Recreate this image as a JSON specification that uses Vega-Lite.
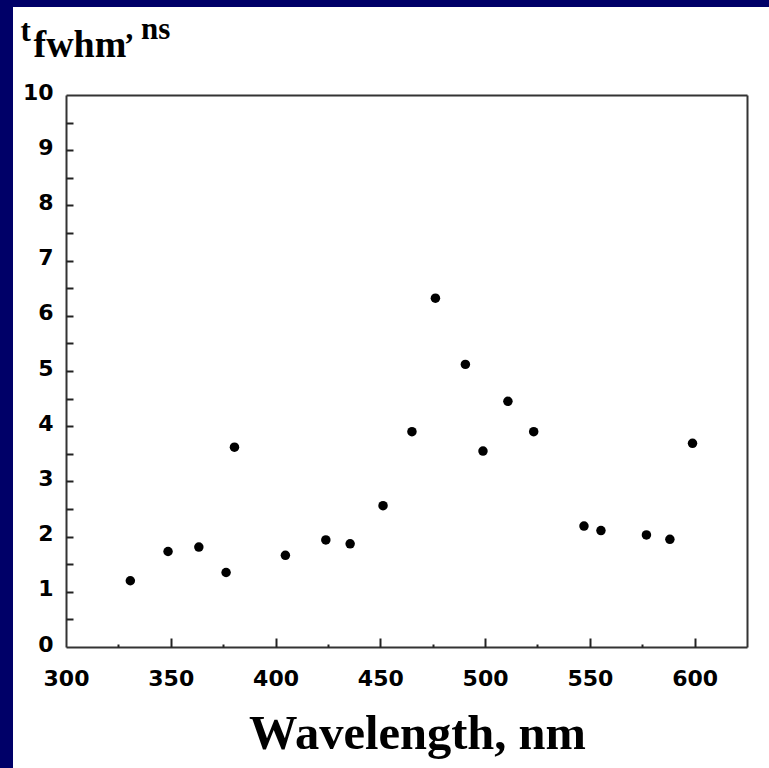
{
  "$schema": "https://vega.github.io/schema/vega-lite/v6.json",
  "width": 770,
  "height": 775,
  "autosize": "none",
  "padding": {"left": 13, "top": 7, "right": 0, "bottom": 0},
  "background": "#000068",
  "config": {
    "view": {"fill": "white", "stroke": null},
    "axis": {"grid": false, "labelFont": "DejaVu Sans", "labelFontWeight": "bold", "labelFontSize": 22, "labelColor": "black", "titleColor": "black", "titleFont": "Liberation Serif", "titleFontWeight": "bold", "domainColor": "#333333", "domainWidth": 2, "tickColor": "#222222", "tickWidth": 2, "labelFlush": false, "labelOverlap": false}
  },
  "data": {"values": [
    {"wavelength": 330.7, "t": 1.20},
    {"wavelength": 348.7, "t": 1.73},
    {"wavelength": 363.4, "t": 1.81},
    {"wavelength": 376.4, "t": 1.35},
    {"wavelength": 380.4, "t": 3.62},
    {"wavelength": 404.7, "t": 1.66},
    {"wavelength": 424.0, "t": 1.94},
    {"wavelength": 435.6, "t": 1.87},
    {"wavelength": 451.3, "t": 2.56},
    {"wavelength": 465.1, "t": 3.90},
    {"wavelength": 476.3, "t": 6.32},
    {"wavelength": 490.6, "t": 5.12},
    {"wavelength": 499.0, "t": 3.55},
    {"wavelength": 510.9, "t": 4.45},
    {"wavelength": 523.2, "t": 3.90},
    {"wavelength": 547.2, "t": 2.19},
    {"wavelength": 555.3, "t": 2.11},
    {"wavelength": 577.0, "t": 2.03},
    {"wavelength": 588.2, "t": 1.95},
    {"wavelength": 599.0, "t": 3.69}
  ]},
  "resolve": {"axis": {"x": "independent", "y": "independent"}},
  "layer": [
    {
      "mark": {"type": "point", "filled": true, "shape": "circle", "size": 90, "color": "black", "opacity": 1},
      "encoding": {
        "x": {"field": "wavelength", "type": "quantitative",
          "scale": {"domain": [300, 625], "range": [53, 734], "nice": false, "zero": false},
          "axis": {"orient": "bottom", "offset": -135, "values": [300, 350, 400, 450, 500, 550, 600], "ticks": false, "domain": true, "labelPadding": 21, "labelBaseline": "top",
            "title": "Wavelength, nm", "titleFontSize": 48.5, "titleX": 404, "titleY": 101, "titleAlign": "center", "titleBaseline": "alphabetic", "titleAnchor": null}},
        "y": {"field": "t", "type": "quantitative",
          "scale": {"domain": [0, 10], "range": [640, 88], "nice": false, "zero": false},
          "axis": {"orient": "left", "offset": -53, "values": [0, 1, 2, 3, 4, 5, 6, 7, 8, 9, 10], "ticks": false, "domain": true, "labelPadding": 13, "labelOffset": -3,
            "title": "t", "titleFontSize": 31, "titleAngle": 0, "titleX": -46, "titleY": 33, "titleAlign": "left", "titleBaseline": "alphabetic"}}
      }
    },
    {
      "mark": {"type": "point", "opacity": 0},
      "encoding": {
        "x": {"field": "wavelength", "type": "quantitative",
          "axis": {"orient": "bottom", "offset": -135, "values": [350, 400, 450, 500, 550, 600], "tickSize": -9, "labels": false, "domain": false, "title": null}},
        "y": {"field": "t", "type": "quantitative",
          "axis": {"orient": "left", "offset": -53, "values": [0.5, 1, 1.5, 2, 2.5, 3, 3.5, 4, 4.5, 5, 5.5, 6, 6.5, 7, 7.5, 8, 8.5, 9, 9.5], "tickSize": -7, "labels": false, "domain": false,
            "title": "fwhm", "titleFontSize": 38, "titleAngle": 0, "titleX": -33, "titleY": 49, "titleAlign": "left", "titleBaseline": "alphabetic"}}
      }
    },
    {
      "mark": {"type": "point", "opacity": 0},
      "encoding": {
        "x": {"field": "wavelength", "type": "quantitative",
          "axis": {"orient": "bottom", "offset": -135, "values": [325, 375, 425, 475, 525, 575], "tickSize": -3, "labels": false, "domain": false, "title": null}},
        "y": {"field": "t", "type": "quantitative",
          "axis": {"orient": "left", "offset": -53, "ticks": false, "labels": false, "domain": false,
            "title": ", ns", "titleFontSize": 31, "titleAngle": 0, "titleX": 59, "titleY": 31, "titleAlign": "left", "titleBaseline": "alphabetic"}}
      }
    },
    {
      "mark": {"type": "point", "opacity": 0},
      "encoding": {
        "x": {"field": "wavelength", "type": "quantitative",
          "axis": {"orient": "top", "offset": -88, "ticks": false, "labels": false, "domain": true, "title": null}},
        "y": {"field": "t", "type": "quantitative",
          "axis": {"orient": "right", "offset": -36, "ticks": false, "labels": false, "domain": true, "title": null}}
      }
    }
  ]
}
